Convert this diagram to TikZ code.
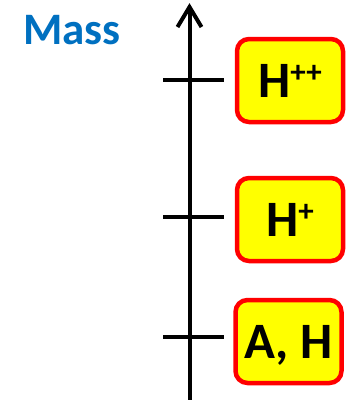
\documentclass[tikz,border=0pt]{standalone}
\usepackage{fontspec}
\setmainfont{Carlito}
\definecolor{massblue}{HTML}{0070C0}
\definecolor{boxred}{HTML}{FF0000}
\definecolor{boxyellow}{HTML}{FFFF00}
\begin{document}
\begin{tikzpicture}[x=1pt,y=-1pt,
  level/.style={draw=boxred, line width=4.5pt, fill=boxyellow, rounded corners=12pt,
    minimum width=106pt, minimum height=83pt, inner sep=0pt,
    font=\fontsize{51}{51}\selectfont\bfseries, text height=33pt, text depth=0pt},
  axisline/.style={line width=4pt, black},
  tickline/.style={line width=4pt, black}]
\useasboundingbox (0,0) rectangle (352,400);
\newcommand{\supplus}[1]{\raisebox{14.5pt}{\fontsize{31}{31}\selectfont #1}}

% title
\node[anchor=base west, inner sep=0pt, text=massblue,
  font=\fontsize{45}{45}\selectfont\bfseries] (title) at (23,44) {Mass};

% vertical mass axis with open arrow head
\coordinate (bottom) at (189.5,402);
\coordinate (top) at (189.5,7);
\coordinate (armL) at (177.5,27);
\coordinate (armR) at (201.5,27);
\draw[axisline] (bottom) -- (top);
\draw[axisline, line join=miter] (armL) -- (top) -- (armR);

% ticks
\coordinate (t1a) at (163,80);  \coordinate (t1b) at (224,80);
\coordinate (t2a) at (163,217); \coordinate (t2b) at (224,217);
\coordinate (t3a) at (163,337); \coordinate (t3b) at (224,337);
\draw[tickline] (t1a) -- (t1b);
\draw[tickline] (t2a) -- (t2b);
\draw[tickline] (t3a) -- (t3b);

% particle boxes
\node[level] (hpp) at (290,80.5) {H\supplus{++}};
\node[level] (hp)  at (290,219.5) {H\supplus{+}};
\node[level] (ah)  at (288.5,341.5) {A, H};
\end{tikzpicture}
\end{document}
